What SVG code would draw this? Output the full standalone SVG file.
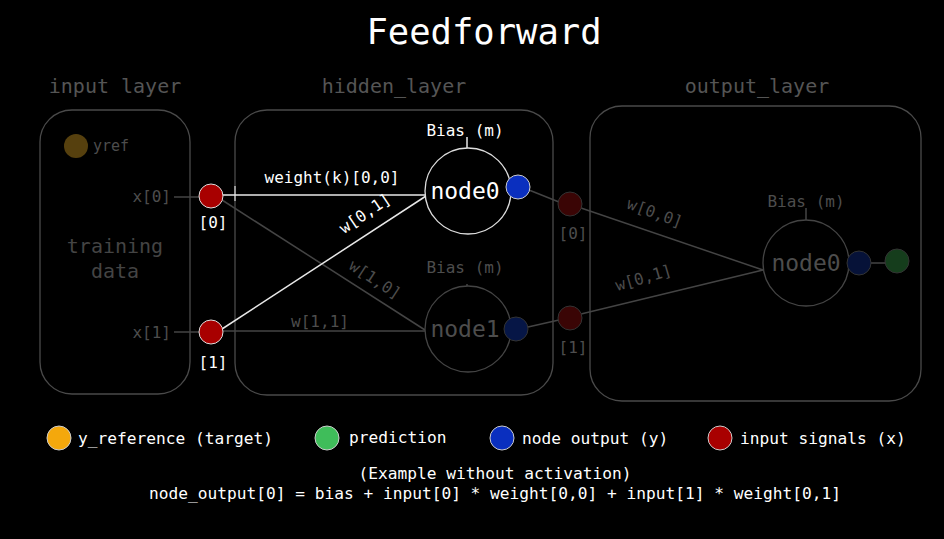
<svg xmlns="http://www.w3.org/2000/svg" width="944" height="539" viewBox="0 0 944 539">
<style>
text{font-family:"DejaVu Sans Mono","Liberation Mono",monospace;}
.box{fill:none;stroke:#4a4a4a;stroke-width:1.3;}
.lay{font-size:20px;fill:#555;text-anchor:middle;}
.g{fill:#4d4d4d;}
.w{fill:#fff;}
.s16{font-size:16px;}
.mid{text-anchor:middle;}
.end{text-anchor:end;}
.wl{stroke:#e8e8e8;stroke-width:1.5;fill:none;}
.gl{stroke:#444;stroke-width:1.5;fill:none;}
.leg{font-size:16.2px;fill:#fff;}
</style>
<rect width="944" height="539" fill="#000"/>
<text x="484" y="44" class="w mid" font-size="35.5">Feedforward</text>

<g id="input_layer">
<text x="115" y="93" class="lay">input layer</text>
<rect x="40" y="110" width="150" height="284" rx="32" class="box"/>
<circle cx="76" cy="146" r="12" fill="#56400e"/>
<text x="93" y="151" class="g" font-size="15">yref</text>
<text x="115" y="253" class="lay" style="fill:#444">training</text>
<text x="115" y="278" class="lay" style="fill:#444">data</text>
<text x="171" y="202" class="g s16 end">x[0]</text>
<text x="171" y="338" class="g s16 end">x[1]</text>
</g>

<g id="hidden_layer">
<text x="394" y="93" class="lay">hidden_layer</text>
<rect x="235" y="110" width="318" height="285" rx="32" class="box"/>
</g>

<g id="output_layer">
<text x="757" y="93" class="lay">output_layer</text>
<rect x="590" y="106" width="331" height="295" rx="32" class="box"/>
</g>

<g id="connectors">
<line x1="174" y1="197" x2="199" y2="197" class="gl"/>
<line x1="174" y1="332" x2="199" y2="332" class="gl"/>
<line x1="235" y1="186" x2="235" y2="201" stroke="#ddd" stroke-width="1.2"/>
<line x1="222" y1="200" x2="425" y2="330" class="gl"/>
<line x1="222" y1="331" x2="425" y2="331" class="gl"/>
<line x1="222" y1="195" x2="426" y2="195" class="wl"/>
<line x1="222" y1="329" x2="426" y2="196" class="wl"/>
<line x1="529" y1="190" x2="559" y2="202" class="gl"/>
<line x1="528" y1="327" x2="559" y2="320" class="gl"/>
<line x1="581" y1="208" x2="763" y2="270" class="gl"/>
<line x1="581" y1="314" x2="763" y2="270" class="gl"/>
<line x1="870" y1="263" x2="886" y2="263" class="gl"/>
<line x1="467" y1="137" x2="467" y2="148" class="wl" stroke-width="1.2"/>
<line x1="806" y1="208" x2="806" y2="220" class="gl"/>
<text x="332" y="183" class="w s16 mid">weight(k)[0,0]</text>
<text transform="translate(368,218) rotate(-34)" class="w s16 mid">w[0,1]</text>
<text transform="translate(372,284) rotate(33)" class="g s16 mid">w[1,0]</text>
<text x="320" y="327" class="g s16 mid">w[1,1]</text>
<text transform="translate(653,218) rotate(20)" class="g s16 mid">w[0,0]</text>
<text transform="translate(645,283) rotate(-16)" class="g s16 mid">w[0,1]</text>
</g>

<g id="in0">
<circle cx="211" cy="196" r="12" fill="#a80000" stroke="#ddd" stroke-width="1"/>
<text x="213" y="228" class="w s16 mid">[0]</text>
</g>
<g id="in1">
<circle cx="211" cy="332" r="12" fill="#a80000" stroke="#ddd" stroke-width="1"/>
<text x="213" y="368" class="w s16 mid">[1]</text>
</g>

<g id="hidden_node0">
<text x="465" y="136" class="w s16 mid">Bias (m)</text>
<circle cx="468" cy="191" r="43" fill="#000" stroke="#ddd" stroke-width="1.3"/>
<text x="465" y="199" class="w mid" font-size="23">node0</text>
<circle cx="518" cy="187" r="12" fill="#0a2fbf" stroke="#ccc" stroke-width="1"/>
</g>
<g id="hidden_node1">
<text x="465" y="273" class="g s16 mid">Bias (m)</text>
<line x1="467" y1="284" x2="467" y2="296" class="gl"/>
<circle cx="468" cy="329" r="43" fill="#000" stroke="#444" stroke-width="1.3"/>
<text x="465" y="337" class="g mid" font-size="23">node1</text>
<circle cx="516" cy="329" r="12" fill="#061646" stroke="#333" stroke-width="1"/>
</g>

<g id="out_in0">
<circle cx="570" cy="204" r="12" fill="#3a0505" stroke="#333" stroke-width="1"/>
<text x="573" y="239" class="g s16 mid">[0]</text>
</g>
<g id="out_in1">
<circle cx="570" cy="318" r="12" fill="#3a0505" stroke="#333" stroke-width="1"/>
<text x="573" y="353" class="g s16 mid">[1]</text>
</g>

<g id="output_node0">
<text x="806" y="207" class="g s16 mid">Bias (m)</text>
<circle cx="806" cy="263" r="43" fill="#000" stroke="#444" stroke-width="1.3"/>
<text x="806" y="271" class="g mid" font-size="23">node0</text>
<circle cx="859" cy="263" r="12" fill="#061238" stroke="#333" stroke-width="1"/>
<circle cx="897" cy="261" r="12" fill="#153d1c" stroke="#333" stroke-width="1"/>
</g>

<g id="legend">
<circle cx="59" cy="438" r="12" fill="#f4a80c" stroke="#ccc" stroke-width="1"/>
<text x="78" y="444" class="leg">y_reference (target)</text>
<circle cx="327" cy="438" r="12" fill="#3fbd5a" stroke="#ccc" stroke-width="1"/>
<text x="349" y="443" class="leg">prediction</text>
<circle cx="502" cy="438" r="12" fill="#0a2fbf" stroke="#ccc" stroke-width="1"/>
<text x="522" y="444" class="leg">node output (y)</text>
<circle cx="720" cy="438" r="12" fill="#a80000" stroke="#ccc" stroke-width="1"/>
<text x="740" y="444" class="leg">input signals (x)</text>
</g>

<g id="caption">
<text x="495" y="479" class="leg mid">(Example without activation)</text>
<text x="495" y="499" class="leg mid">node_output[0] = bias + input[0] * weight[0,0] + input[1] * weight[0,1]</text>
</g>
</svg>
